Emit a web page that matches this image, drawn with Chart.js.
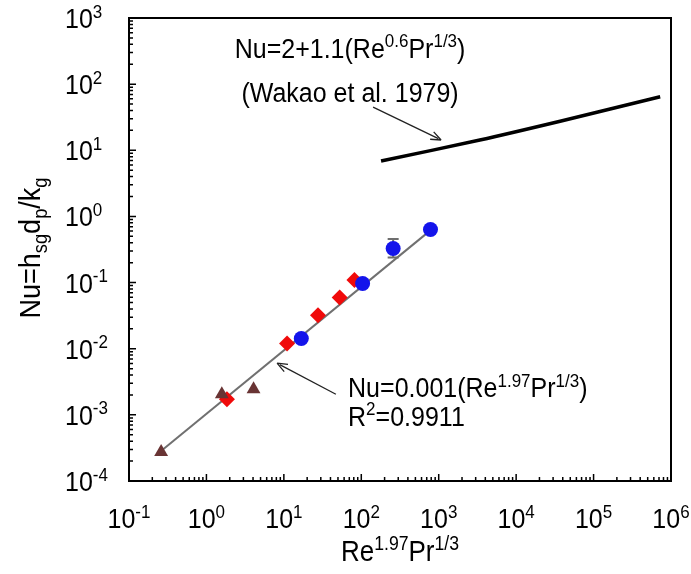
<!DOCTYPE html>
<html>
<head>
<meta charset="utf-8">
<script src="https://cdn.jsdelivr.net/npm/chart.js@4/dist/chart.umd.min.js"></script>
<style>
  html, body { margin: 0; padding: 0; background: #fff; }
  #wrap { width: 691px; height: 574px; position: relative; }
</style>
</head>
<body>
<div id="wrap"><canvas id="c" width="691" height="574"></canvas></div>
<script>
// Measured Nusselt numbers against Re^1.97 Pr^1/3
const blueX = [16.8, 104, 258, 783];
const blueY = [0.0143, 0.097, 0.328, 0.635];
const redX = [1.84, 11.0, 27.6, 52.6, 81.5];
const redY = [0.00172, 0.0120, 0.0321, 0.0595, 0.109];
const brownX = [0.26, 1.58, 4.06];
const brownY = [0.000275, 0.00205, 0.00244];

// Error bar on the blue series
const errX = [258];
const errLow = [0.240];
const errHigh = [0.454];

// Power-law fit line end points
const fitX = [0.237, 847];
const fitY = [0.00026, 0.665];

// Wakao et al. (1979) correlation
const wakaoX = [180, 3400, 37000, 725000];
const wakaoY = [6.87, 14.3, 27.5, 64.5];

// Decade ticks
const xDecades = [-1, 0, 1, 2, 3, 4, 5, 6];
const yDecades = [-4, -3, -2, -1, 0, 1, 2, 3];

const FONT = '"Liberation Sans", Arial, Helvetica, sans-serif';
const STRETCH = 1.1;   // text is drawn slightly taller than wide

function toPts(xs, ys) { return xs.map((x, i) => ({ x: x, y: ys[i] })); }

// Draw a run of text pieces with optional super/subscripts
function richWidth(ctx, parts, size) {
  let w = 0;
  parts.forEach(p => {
    const s = p.s ? size * 0.68 : size;
    ctx.font = s + 'px ' + FONT;
    w += ctx.measureText(p.t).width;
  });
  return w;
}
function drawRich(ctx, parts, x, y, size, align) {
  const w = richWidth(ctx, parts, size);
  let cx = align === 'center' ? -w / 2 : (align === 'right' ? -w : 0);
  ctx.save();
  ctx.translate(x, y);
  ctx.scale(1, STRETCH);
  ctx.textBaseline = 'alphabetic';
  ctx.textAlign = 'left';
  parts.forEach(p => {
    const s = p.s ? size * 0.68 : size;
    ctx.font = s + 'px ' + FONT;
    let dy = 0;
    if (p.s === 'sup') dy = -size * 0.38;
    if (p.s === 'sub') dy = size * 0.22;
    ctx.fillText(p.t, cx, dy);
    cx += ctx.measureText(p.t).width;
  });
  ctx.restore();
}
function arrow(ctx, x1, y1, x2, y2) {
  const a = Math.atan2(y2 - y1, x2 - x1);
  const L = 11, W = 0.38;
  ctx.beginPath();
  ctx.moveTo(x1, y1);
  ctx.lineTo(x2 - Math.cos(a) * 3, y2 - Math.sin(a) * 3);
  ctx.stroke();
  ctx.beginPath();
  ctx.moveTo(x2, y2);
  ctx.lineTo(x2 - L * Math.cos(a - W), y2 - L * Math.sin(a - W));
  ctx.moveTo(x2, y2);
  ctx.lineTo(x2 - L * Math.cos(a + W), y2 - L * Math.sin(a + W));
  ctx.stroke();
}

const decor = {
  id: 'decor',
  beforeDatasetsDraw(chart) {
    const ctx = chart.ctx, xs = chart.scales.x, ys = chart.scales.y;
    ctx.save();
    // error bar
    ctx.strokeStyle = '#6e6e6e';
    ctx.lineWidth = 2;
    errX.forEach((xv, i) => {
      const px = xs.getPixelForValue(xv);
      const p1 = ys.getPixelForValue(errLow[i]);
      const p2 = ys.getPixelForValue(errHigh[i]);
      ctx.beginPath();
      ctx.moveTo(px, p1); ctx.lineTo(px, p2);
      ctx.moveTo(px - 5.5, p1); ctx.lineTo(px + 5.5, p1);
      ctx.moveTo(px - 5.5, p2); ctx.lineTo(px + 5.5, p2);
      ctx.stroke();
    });
    ctx.restore();
  },
  afterDraw(chart) {
    const ctx = chart.ctx, a = chart.chartArea;
    const xs = chart.scales.x, ys = chart.scales.y;
    ctx.save();
    ctx.fillStyle = '#000';
    ctx.strokeStyle = '#000';

    // frame
    ctx.lineWidth = 2;
    ctx.strokeRect(a.left, a.top, a.right - a.left, a.bottom - a.top);

    // inward tick marks on the bottom and left axes
    ctx.lineWidth = 1.5;
    ctx.beginPath();
    xDecades.forEach(d => {
      const px = xs.getPixelForValue(Math.pow(10, d));
      ctx.moveTo(px, a.bottom); ctx.lineTo(px, a.bottom - 7);
      if (d < xDecades[xDecades.length - 1]) {
        for (let k = 2; k <= 9; k++) {
          const mx = xs.getPixelForValue(k * Math.pow(10, d));
          ctx.moveTo(mx, a.bottom); ctx.lineTo(mx, a.bottom - 4);
        }
      }
    });
    yDecades.forEach(d => {
      const py = ys.getPixelForValue(Math.pow(10, d));
      ctx.moveTo(a.left, py); ctx.lineTo(a.left + 7, py);
      if (d < yDecades[yDecades.length - 1]) {
        for (let k = 2; k <= 9; k++) {
          const my = ys.getPixelForValue(k * Math.pow(10, d));
          ctx.moveTo(a.left, my); ctx.lineTo(a.left + 4, my);
        }
      }
    });
    ctx.stroke();

    // tick labels
    const TS = 25;
    xDecades.forEach(d => {
      const px = xs.getPixelForValue(Math.pow(10, d));
      drawRich(ctx, [{ t: '10' }, { t: String(d), s: 'sup' }], px, a.bottom + 47, TS, 'center');
    });
    yDecades.forEach(d => {
      const py = ys.getPixelForValue(Math.pow(10, d));
      drawRich(ctx, [{ t: '10' }, { t: String(d), s: 'sup' }], 65, py + 10, TS, 'left');
    });

    // axis titles
    drawRich(ctx, [{ t: 'Re' }, { t: '1.97', s: 'sup' }, { t: 'Pr' }, { t: '1/3', s: 'sup' }],
      (a.left + a.right) / 2, 561, 26, 'center');
    ctx.save();
    ctx.translate(40, 248);
    ctx.rotate(-Math.PI / 2);
    drawRich(ctx, [{ t: 'Nu=h' }, { t: 'sg', s: 'sub' }, { t: 'd' }, { t: 'p', s: 'sub' }, { t: '/k' }, { t: 'g', s: 'sub' }],
      0, 0, 27, 'center');
    ctx.restore();

    // annotations
    const AS = 25;
    drawRich(ctx, [{ t: 'Nu=2+1.1(Re' }, { t: '0.6', s: 'sup' }, { t: 'Pr' }, { t: '1/3', s: 'sup' }, { t: ')' }],
      xs.getPixelForValue(71.6), ys.getPixelForValue(250), AS, 'center');
    drawRich(ctx, [{ t: '(Wakao et al. 1979)' }],
      xs.getPixelForValue(71.6), ys.getPixelForValue(53.6), AS, 'center');
    drawRich(ctx, [{ t: 'Nu=0.001(Re' }, { t: '1.97', s: 'sup' }, { t: 'Pr' }, { t: '1/3', s: 'sup' }, { t: ')' }],
      xs.getPixelForValue(67.5), ys.getPixelForValue(0.00186), AS, 'left');
    drawRich(ctx, [{ t: 'R' }, { t: '2', s: 'sup' }, { t: '=0.9911' }],
      xs.getPixelForValue(67.5), ys.getPixelForValue(0.00068), AS, 'left');

    ctx.lineWidth = 1.3;
    ctx.strokeStyle = '#222';
    arrow(ctx, xs.getPixelForValue(142), ys.getPixelForValue(45), xs.getPixelForValue(1074), ys.getPixelForValue(14.3));
    arrow(ctx, xs.getPixelForValue(47), ys.getPixelForValue(0.00205), xs.getPixelForValue(8.17), ys.getPixelForValue(0.00604));
    ctx.restore();
  }
};

new Chart(document.getElementById('c'), {
  type: 'scatter',
  data: {
    datasets: [
      { label: 'fit', data: toPts(fitX, fitY), showLine: true, pointRadius: 0,
        borderColor: '#707070', borderWidth: 2, order: 10 },
      { label: 'Wakao', data: toPts(wakaoX, wakaoY), showLine: true, pointRadius: 0,
        borderColor: '#000', borderWidth: 3.5, tension: 0.3, order: 9 },
      { label: 'red', data: toPts(redX, redY), pointStyle: 'rectRot', pointRadius: 8,
        backgroundColor: 'rgb(240,10,10)', borderColor: 'rgb(240,10,10)', borderWidth: 0, order: 3 },
      { label: 'brown', data: toPts(brownX, brownY), pointStyle: 'triangle', pointRadius: 8,
        backgroundColor: 'rgb(105,52,52)', borderColor: 'rgb(105,52,52)', borderWidth: 0, order: 2 },
      { label: 'blue', data: toPts(blueX, blueY), pointStyle: 'circle', pointRadius: 7.5,
        backgroundColor: 'rgb(20,20,235)', borderColor: 'rgb(20,20,235)', borderWidth: 0, order: 1 }
    ]
  },
  options: {
    responsive: false,
    animation: false,
    layout: { padding: { left: 129, right: 20, top: 18, bottom: 93 } },
    plugins: { legend: { display: false }, tooltip: { enabled: false } },
    scales: {
      x: { type: 'logarithmic', min: 0.1, max: 1e6, display: false },
      y: { type: 'logarithmic', min: 1e-4, max: 1e3, display: false }
    }
  },
  plugins: [decor]
});
</script>
</body>
</html>
